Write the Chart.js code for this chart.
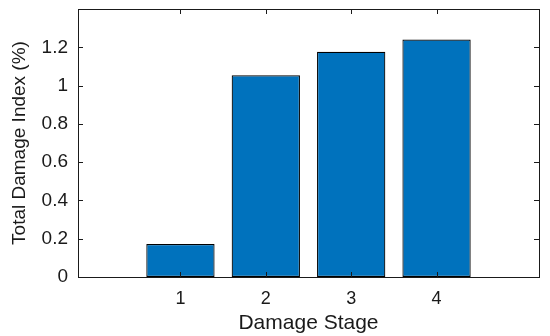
<!DOCTYPE html>
<html>
<head>
<meta charset="utf-8">
<script src="https://cdn.jsdelivr.net/npm/chart.js@4"></script>
<style>
  html, body { margin: 0; padding: 0; background: #fff; }
  #wrap { width: 550px; height: 336px; }
</style>
</head>
<body>
<div id="wrap"><canvas id="damageChart" width="550" height="336"></canvas></div>
<script>
// data
const stages = [1, 2, 3, 4];
const damageIndex = [0.172, 1.054, 1.177, 1.241];
const yTicks = [0, 0.2, 0.4, 0.6, 0.8, 1, 1.2];
const xTicks = [1, 2, 3, 4];

const axisColor = "#1a1a1a";
const fontFamily = "Arial, 'Liberation Sans', sans-serif";

/* -------------------------------
   BOX + INWARD TICKS (matlab style)
--------------------------------*/
const boxPlugin = {
  id: "boxTicks",
  afterDraw(chart) {
    const { ctx, chartArea: a, scales } = chart;
    const len = 5;
    ctx.save();
    ctx.strokeStyle = axisColor;
    ctx.lineWidth = 1;
    ctx.beginPath();
    xTicks.forEach(v => {
      const px = Math.round(scales.x.getPixelForValue(v)) + 0.5;
      ctx.moveTo(px, a.bottom); ctx.lineTo(px, a.bottom - len);
      ctx.moveTo(px, a.top); ctx.lineTo(px, a.top + len);
    });
    yTicks.forEach(v => {
      const py = Math.round(scales.y.getPixelForValue(v)) + 0.5;
      ctx.moveTo(a.left, py); ctx.lineTo(a.left + len, py);
      ctx.moveTo(a.right, py); ctx.lineTo(a.right - len, py);
    });
    ctx.stroke();
    ctx.strokeRect(Math.round(a.left) + 0.5, Math.round(a.top) + 0.5,
      Math.round(a.right - a.left), Math.round(a.bottom - a.top));
    ctx.restore();
  }
};

new Chart(document.getElementById("damageChart"), {
  type: "bar",
  data: {
    datasets: [{
      data: stages.map((s, i) => ({ x: s, y: damageIndex[i] })),
      backgroundColor: "#0072BD",
      borderColor: "#000",
      borderWidth: 1.2,
      borderSkipped: false,
      categoryPercentage: 1,
      barPercentage: 0.8
    }]
  },
  options: {
    responsive: false,
    animation: false,
    layout: { padding: { top: 9, right: 11, left: 8, bottom: 0 } },
    plugins: {
      legend: { display: false },
      tooltip: { enabled: false }
    },
    scales: {
      x: {
        type: "linear",
        offset: false,
        min: -0.2,
        max: 5.2,
        afterBuildTicks: s => { s.ticks = xTicks.map(v => ({ value: v })); },
        afterFit: s => { s.height = 59; s.paddingLeft = 0; s.paddingRight = 0; },
        grid: { display: false },
        border: { display: false },
        ticks: {
          color: axisColor,
          font: { family: fontFamily, size: 18 },
          padding: 3,
          maxRotation: 0
        },
        title: {
          display: true,
          text: "Damage Stage",
          color: axisColor,
          font: { family: fontFamily, size: 21 },
          padding: { top: 0, bottom: 0 }
        }
      },
      y: {
        min: 0,
        max: 1.4,
        afterBuildTicks: s => { s.ticks = yTicks.map(v => ({ value: v })); },
        afterFit: s => { s.width = 70; s.paddingTop = 0; s.paddingBottom = 0; },
        grid: { display: false },
        border: { display: false },
        ticks: {
          color: axisColor,
          font: { family: fontFamily, size: 19 },
          padding: 2,
          callback: v => String(Math.round(v * 10) / 10)
        },
        title: {
          display: true,
          text: "Total Damage Index (%)",
          color: axisColor,
          font: { family: fontFamily, size: 19 },
          padding: { top: 0, bottom: 0 }
        }
      }
    }
  },
  plugins: [boxPlugin]
});
</script>
</body>
</html>
